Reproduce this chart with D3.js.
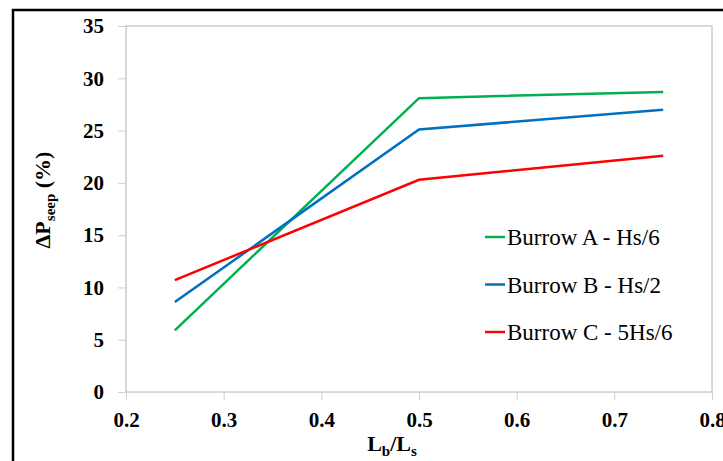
<!DOCTYPE html>
<html lang="en">
  <head>
    <meta charset="UTF-8" />
    <title>Delta P seep</title>
    <style>
      body { margin: 0; background: #fff; }
      svg { display: block; }
      .tick text { font-family: "Liberation Serif", "Times New Roman", serif; font-weight: bold; font-size: 21px; fill: #000; }
      .tick line { stroke: #d0d0d0; }
      .domain { display: none; }
      .serif { font-family: "Liberation Serif", "Times New Roman", serif; }
    </style>
  </head>
  <body>
    <svg id="chart"></svg>
    <script src="https://cdn.jsdelivr.net/npm/d3@7"></script>
    <script>
      // values
      var ratios = [0.25, 0.5, 0.75];
      var burrowA = [5.9, 28.1, 28.7];
      var burrowB = [8.6, 25.1, 27.0];
      var burrowC = [10.7, 20.3, 22.6];
      var seriesNames = ["Burrow A - Hs/6", "Burrow B - Hs/2", "Burrow C - 5Hs/6"];
      var seriesColors = ["#00b050", "#0070c0", "#ff0000"];
      var xTicks = [0.2, 0.3, 0.4, 0.5, 0.6, 0.7, 0.8];
      var yTicks = [0, 5, 10, 15, 20, 25, 30, 35];

      var w = 723,
          h = 461;
      var plot = { left: 126, right: 712, top: 26, bottom: 392 };

      var svg = d3.select("#chart")
                  .attr("width", w)
                  .attr("height", h);

      // outer frame
      svg.append("path")
         .attr("d", "M13," + h + "V10H" + w)
         .attr("fill", "none")
         .attr("stroke", "#000")
         .attr("stroke-width", 2.5);

      var xScale = d3.scaleLinear()
                     .domain([0.2, 0.8])
                     .range([plot.left, plot.right]);
      var yScale = d3.scaleLinear()
                     .domain([0, 35])
                     .range([plot.bottom, plot.top]);

      // plot area border
      svg.append("rect")
         .attr("x", plot.left)
         .attr("y", plot.top)
         .attr("width", plot.right - plot.left)
         .attr("height", plot.bottom - plot.top)
         .attr("fill", "none")
         .attr("stroke", "#cccccc")
         .attr("stroke-width", 1.5);

      var xAxis = d3.axisBottom(xScale)
                    .tickValues(xTicks)
                    .tickSize(8)
                    .tickPadding(12)
                    .tickFormat(d3.format(".1f"));
      var yAxis = d3.axisLeft(yScale)
                    .tickValues(yTicks)
                    .tickSize(8)
                    .tickPadding(14);

      svg.append("g")
         .attr("class", "x-axis")
         .attr("transform", "translate(0," + plot.bottom + ")")
         .call(xAxis);
      svg.append("g")
         .attr("class", "y-axis")
         .attr("transform", "translate(" + plot.left + ",0)")
         .call(yAxis);

      var line = d3.line()
                   .x(function(d, i) { return xScale(ratios[i]); })
                   .y(function(d) { return yScale(d); });

      var allSeries = [burrowA, burrowB, burrowC];
      svg.selectAll(".series")
         .data(allSeries)
         .enter()
         .append("path")
         .attr("class", "series")
         .attr("d", line)
         .attr("fill", "none")
         .attr("stroke", function(d, i) { return seriesColors[i]; })
         .attr("stroke-width", 2.5);

      // legend
      var legend = svg.selectAll(".legend")
         .data(seriesNames)
         .enter()
         .append("g")
         .attr("class", "legend")
         .attr("transform", function(d, i) { return "translate(485," + (237 + i * 47.5) + ")"; });
      legend.append("line")
            .attr("x1", 0)
            .attr("x2", 20)
            .attr("stroke", function(d, i) { return seriesColors[i]; })
            .attr("stroke-width", 2.5);
      legend.append("text")
            .attr("class", "serif")
            .attr("x", 22)
            .attr("y", 8)
            .attr("font-size", 23)
            .text(function(d) { return d; });

      // axis titles
      var yTitle = svg.append("text")
         .attr("class", "serif")
         .attr("transform", "translate(50,200)rotate(-90)")
         .attr("text-anchor", "middle")
         .attr("font-weight", "bold")
         .attr("font-size", 22);
      yTitle.append("tspan").text("\u0394P");
      yTitle.append("tspan").attr("font-size", 15).attr("dy", 5).text("seep");
      yTitle.append("tspan").attr("dy", -5).text(" (%)");

      var xTitle = svg.append("text")
         .attr("class", "serif")
         .attr("x", 392)
         .attr("y", 451)
         .attr("text-anchor", "middle")
         .attr("font-weight", "bold")
         .attr("font-size", 22);
      xTitle.append("tspan").text("L");
      xTitle.append("tspan").attr("font-size", 15).attr("dy", 5).text("b");
      xTitle.append("tspan").attr("dy", -5).text("/L");
      xTitle.append("tspan").attr("font-size", 15).attr("dy", 5).text("s");
    </script>
  </body>
</html>
